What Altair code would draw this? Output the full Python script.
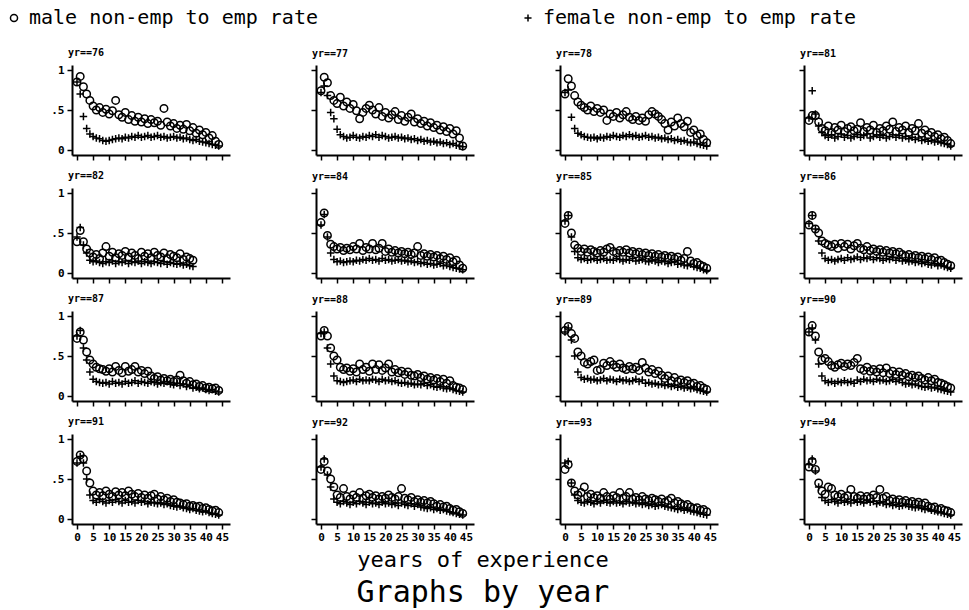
import altair as alt
import pandas as pd

# Survey years, one panel each (4 x 4 grid)
YEARS = [76, 77, 78, 81, 82, 84, 85, 86, 87, 88, 89, 90, 91, 92, 93, 94]
SERIES = ["male non-emp to emp rate", "female non-emp to emp rate"]
X_TICKS = [0, 5, 10, 15, 20, 25, 30, 35, 40, 45]
Y_TICKS = [0, 0.5, 1]

# Non-employment to employment transition rates by years of experience (0, 1, 2, ...)
male = {
    76: [0.85,0.92,0.79,0.70,0.62,0.55,0.50,0.53,0.47,0.51,0.45,0.49,0.62,0.44,0.41,
         0.47,0.38,0.43,0.36,0.41,0.35,0.39,0.33,0.38,0.34,0.36,0.31,0.52,0.35,0.30,
         0.33,0.27,0.31,0.26,0.32,0.24,0.28,0.21,0.25,0.19,0.22,0.15,0.18,0.11,0.07],
    77: [0.74,0.91,0.84,0.68,0.62,0.58,0.66,0.55,0.60,0.52,0.57,0.49,0.39,0.47,0.52,
         0.56,0.50,0.45,0.53,0.42,0.47,0.40,0.44,0.48,0.38,0.43,0.36,0.41,0.45,0.35,
         0.39,0.33,0.36,0.30,0.34,0.28,0.31,0.25,0.29,0.23,0.27,0.20,0.24,0.15,0.05],
    78: [0.70,0.89,0.80,0.68,0.60,0.56,0.53,0.50,0.55,0.48,0.52,0.47,0.50,0.37,0.45,
         0.42,0.47,0.40,0.44,0.48,0.41,0.38,0.42,0.37,0.40,0.36,0.44,0.48,0.45,0.42,
         0.38,0.33,0.25,0.35,0.30,0.40,0.33,0.29,0.36,0.22,0.25,0.18,0.20,0.13,0.09],
    81: [0.37,0.43,0.43,0.35,0.27,0.24,0.30,0.22,0.28,0.25,0.31,0.23,0.27,0.29,0.24,
         0.26,0.34,0.23,0.28,0.25,0.31,0.22,0.27,0.24,0.30,0.26,0.35,0.23,0.28,0.25,
         0.30,0.22,0.27,0.24,0.33,0.21,0.25,0.19,0.22,0.17,0.19,0.14,0.16,0.12,0.08],
    82: [0.39,0.53,0.39,0.30,0.25,0.20,0.23,0.18,0.25,0.33,0.21,0.26,0.19,0.24,0.22,
         0.27,0.20,0.25,0.22,0.18,0.26,0.21,0.24,0.19,0.26,0.22,0.20,0.25,0.18,0.23,
         0.21,0.19,0.24,0.17,0.20,0.18,0.16],
    84: [0.63,0.75,0.47,0.36,0.33,0.30,0.32,0.28,0.31,0.29,0.33,0.30,0.37,0.28,0.32,
         0.30,0.37,0.29,0.31,0.37,0.27,0.30,0.26,0.28,0.25,0.27,0.24,0.26,0.23,0.25,
         0.33,0.22,0.24,0.21,0.23,0.20,0.22,0.18,0.21,0.17,0.19,0.14,0.16,0.10,0.06],
    85: [0.62,0.72,0.50,0.35,0.31,0.27,0.30,0.26,0.29,0.27,0.25,0.28,0.26,0.30,0.32,
         0.27,0.25,0.28,0.26,0.29,0.25,0.27,0.24,0.26,0.23,0.25,0.22,0.24,0.21,0.23,
         0.20,0.22,0.19,0.21,0.18,0.20,0.16,0.18,0.27,0.15,0.12,0.13,0.10,0.08,0.06],
    86: [0.60,0.72,0.55,0.50,0.40,0.37,0.35,0.33,0.36,0.31,0.37,0.33,0.36,0.30,0.34,
         0.37,0.31,0.29,0.33,0.28,0.30,0.27,0.29,0.26,0.28,0.25,0.27,0.24,0.26,0.23,
         0.21,0.23,0.20,0.22,0.19,0.21,0.18,0.20,0.17,0.19,0.15,0.16,0.13,0.11,0.09],
    87: [0.72,0.80,0.70,0.55,0.45,0.40,0.36,0.34,0.33,0.31,0.34,0.30,0.37,0.32,0.29,
         0.37,0.31,0.33,0.37,0.30,0.32,0.28,0.31,0.25,0.22,0.24,0.20,0.22,0.19,0.21,
         0.18,0.20,0.26,0.19,0.16,0.18,0.14,0.15,0.12,0.13,0.10,0.11,0.09,0.10,0.07],
    88: [0.75,0.82,0.75,0.60,0.50,0.45,0.36,0.33,0.35,0.31,0.34,0.30,0.40,0.33,0.36,
         0.31,0.40,0.33,0.39,0.32,0.35,0.40,0.30,0.33,0.29,0.31,0.27,0.30,0.26,0.25,
         0.27,0.23,0.25,0.21,0.23,0.20,0.22,0.18,0.21,0.16,0.19,0.13,0.11,0.10,0.08],
    89: [0.82,0.87,0.78,0.72,0.55,0.50,0.42,0.40,0.43,0.45,0.32,0.33,0.41,0.38,0.43,
         0.39,0.36,0.40,0.35,0.33,0.37,0.34,0.36,0.32,0.42,0.35,0.30,0.33,0.28,0.31,
         0.26,0.22,0.25,0.19,0.23,0.18,0.20,0.17,0.19,0.15,0.16,0.12,0.13,0.10,0.08],
    90: [0.80,0.88,0.75,0.55,0.45,0.47,0.43,0.38,0.36,0.39,0.41,0.37,0.40,0.38,0.42,
         0.47,0.34,0.32,0.36,0.31,0.33,0.30,0.34,0.29,0.35,0.28,0.31,0.27,0.30,0.26,
         0.28,0.24,0.26,0.23,0.25,0.22,0.20,0.23,0.19,0.21,0.17,0.16,0.14,0.12,0.10],
    91: [0.72,0.80,0.75,0.60,0.45,0.35,0.30,0.33,0.29,0.35,0.31,0.28,0.34,0.30,0.33,
         0.29,0.35,0.31,0.28,0.32,0.27,0.30,0.26,0.29,0.31,0.25,0.28,0.24,0.26,0.22,
         0.24,0.21,0.20,0.18,0.19,0.16,0.17,0.15,0.16,0.13,0.14,0.12,0.10,0.11,0.08],
    92: [0.62,0.72,0.60,0.50,0.40,0.30,0.27,0.38,0.28,0.25,0.30,0.27,0.33,0.26,0.29,
         0.31,0.27,0.29,0.25,0.28,0.26,0.30,0.27,0.25,0.28,0.38,0.26,0.24,0.27,0.22,
         0.24,0.21,0.23,0.20,0.22,0.19,0.16,0.18,0.15,0.16,0.13,0.11,0.12,0.09,0.07],
    93: [0.62,0.68,0.45,0.35,0.30,0.33,0.40,0.28,0.31,0.27,0.29,0.26,0.33,0.28,0.25,
         0.29,0.27,0.33,0.26,0.28,0.33,0.25,0.27,0.24,0.28,0.25,0.23,0.26,0.24,0.22,
         0.25,0.21,0.23,0.26,0.20,0.22,0.19,0.17,0.18,0.15,0.13,0.14,0.11,0.12,0.09],
    94: [0.65,0.72,0.62,0.45,0.35,0.31,0.40,0.38,0.30,0.28,0.31,0.27,0.29,0.37,0.28,
         0.26,0.29,0.25,0.28,0.26,0.30,0.27,0.37,0.26,0.28,0.23,0.25,0.22,0.24,0.21,
         0.23,0.20,0.22,0.19,0.21,0.18,0.20,0.16,0.14,0.15,0.12,0.13,0.11,0.10,0.08],
}

female = {
    76: [0.85,0.70,0.42,0.27,0.20,0.17,0.15,0.14,0.12,0.11,0.12,0.13,0.14,0.15,0.14,
         0.16,0.15,0.17,0.16,0.18,0.16,0.17,0.18,0.16,0.17,0.18,0.16,0.17,0.15,0.16,
         0.17,0.15,0.16,0.14,0.15,0.13,0.12,0.13,0.11,0.10,0.09,0.08,0.07,0.06,0.05],
    77: [0.72,0.80,0.68,0.47,0.39,0.26,0.19,0.17,0.15,0.16,0.18,0.16,0.15,0.17,0.16,
         0.18,0.17,0.19,0.16,0.18,0.17,0.15,0.16,0.17,0.15,0.16,0.14,0.15,0.13,0.14,
         0.12,0.13,0.11,0.12,0.10,0.11,0.09,0.10,0.08,0.09,0.07,0.08,0.06,0.05,0.04],
    78: [0.72,0.75,0.41,0.27,0.21,0.19,0.17,0.16,0.15,0.16,0.14,0.16,0.15,0.17,0.16,
         0.18,0.17,0.16,0.18,0.17,0.19,0.17,0.18,0.16,0.17,0.18,0.16,0.17,0.15,0.16,
         0.14,0.15,0.13,0.14,0.12,0.13,0.11,0.12,0.10,0.09,0.10,0.08,0.07,0.06,0.05],
    81: [0.40,0.74,0.45,0.30,0.22,0.18,0.16,0.19,0.15,0.17,0.20,0.16,0.18,0.15,0.17,
         0.19,0.16,0.18,0.20,0.15,0.17,0.19,0.16,0.18,0.15,0.17,0.19,0.16,0.18,0.15,
         0.17,0.14,0.16,0.13,0.15,0.12,0.13,0.11,0.12,0.10,0.11,0.09,0.08,0.07,0.05],
    82: [0.45,0.57,0.35,0.25,0.16,0.14,0.15,0.13,0.12,0.14,0.13,0.15,0.12,0.14,0.13,
         0.15,0.12,0.14,0.13,0.15,0.12,0.14,0.13,0.12,0.14,0.13,0.12,0.14,0.11,0.13,
         0.12,0.11,0.12,0.10,0.11,0.09,0.08],
    84: [0.60,0.73,0.45,0.25,0.17,0.14,0.15,0.13,0.14,0.15,0.14,0.16,0.15,0.17,0.16,
         0.18,0.16,0.17,0.15,0.18,0.16,0.17,0.15,0.16,0.17,0.15,0.16,0.14,0.15,0.13,
         0.14,0.12,0.13,0.11,0.12,0.10,0.11,0.12,0.09,0.10,0.08,0.07,0.06,0.05,0.04],
    85: [0.65,0.72,0.45,0.27,0.19,0.17,0.18,0.16,0.17,0.18,0.16,0.17,0.18,0.16,0.17,
         0.16,0.18,0.17,0.15,0.17,0.16,0.18,0.15,0.16,0.17,0.15,0.14,0.16,0.15,0.13,
         0.15,0.14,0.12,0.13,0.14,0.11,0.12,0.10,0.09,0.11,0.08,0.07,0.06,0.04,0.03],
    86: [0.62,0.72,0.55,0.40,0.25,0.18,0.16,0.17,0.15,0.17,0.18,0.16,0.19,0.17,0.18,
         0.20,0.17,0.19,0.18,0.20,0.17,0.19,0.18,0.16,0.18,0.17,0.19,0.16,0.18,0.15,
         0.16,0.14,0.15,0.13,0.14,0.12,0.13,0.11,0.10,0.12,0.09,0.10,0.08,0.07,0.06],
    87: [0.75,0.82,0.60,0.45,0.30,0.21,0.18,0.17,0.16,0.17,0.15,0.18,0.16,0.17,0.15,
         0.18,0.16,0.17,0.19,0.16,0.18,0.17,0.16,0.18,0.17,0.15,0.17,0.16,0.18,0.15,
         0.14,0.16,0.13,0.15,0.12,0.13,0.10,0.11,0.09,0.10,0.08,0.07,0.08,0.06,0.05],
    88: [0.78,0.80,0.60,0.40,0.25,0.19,0.18,0.17,0.18,0.19,0.20,0.18,0.21,0.19,0.20,
         0.19,0.21,0.20,0.18,0.21,0.19,0.20,0.18,0.19,0.17,0.16,0.17,0.15,0.16,0.14,
         0.15,0.14,0.16,0.13,0.14,0.12,0.11,0.12,0.10,0.09,0.10,0.08,0.07,0.06,0.05],
    89: [0.80,0.85,0.70,0.50,0.30,0.23,0.21,0.22,0.20,0.21,0.19,0.20,0.22,0.19,0.21,
         0.20,0.18,0.21,0.19,0.20,0.18,0.19,0.21,0.18,0.20,0.16,0.17,0.15,0.16,0.14,
         0.15,0.13,0.14,0.12,0.13,0.11,0.12,0.10,0.11,0.09,0.10,0.08,0.07,0.06,0.05],
    90: [0.80,0.85,0.70,0.40,0.25,0.19,0.17,0.18,0.16,0.18,0.17,0.19,0.17,0.18,0.16,
         0.20,0.18,0.21,0.19,0.20,0.18,0.21,0.19,0.20,0.18,0.19,0.21,0.18,0.20,0.17,
         0.15,0.16,0.14,0.15,0.13,0.12,0.11,0.12,0.10,0.11,0.09,0.08,0.07,0.06,0.05],
    91: [0.70,0.78,0.70,0.50,0.30,0.23,0.21,0.24,0.22,0.20,0.23,0.21,0.24,0.22,0.20,
         0.23,0.21,0.22,0.20,0.23,0.21,0.22,0.19,0.21,0.20,0.19,0.20,0.18,0.19,0.17,
         0.16,0.15,0.16,0.14,0.13,0.12,0.13,0.11,0.10,0.09,0.10,0.08,0.07,0.06,0.05],
    92: [0.65,0.75,0.55,0.40,0.25,0.21,0.19,0.22,0.20,0.18,0.21,0.19,0.22,0.20,0.18,
         0.21,0.19,0.20,0.18,0.21,0.19,0.20,0.18,0.19,0.17,0.20,0.18,0.17,0.19,0.16,
         0.18,0.15,0.14,0.13,0.14,0.12,0.13,0.11,0.12,0.10,0.09,0.08,0.07,0.06,0.05],
    93: [0.70,0.72,0.45,0.30,0.23,0.21,0.20,0.22,0.21,0.19,0.22,0.20,0.23,0.21,0.20,
         0.22,0.20,0.21,0.19,0.22,0.20,0.21,0.19,0.20,0.18,0.19,0.17,0.18,0.16,0.17,
         0.18,0.16,0.15,0.14,0.13,0.12,0.13,0.11,0.12,0.10,0.09,0.08,0.07,0.06,0.05],
    94: [0.68,0.75,0.60,0.40,0.27,0.23,0.21,0.24,0.22,0.20,0.23,0.21,0.22,0.20,0.23,
         0.21,0.22,0.20,0.23,0.21,0.22,0.19,0.21,0.20,0.18,0.19,0.17,0.18,0.16,0.17,
         0.18,0.16,0.15,0.14,0.15,0.13,0.12,0.13,0.11,0.10,0.09,0.08,0.07,0.06,0.05],
}

rows = []
for yr in YEARS:
    for name, table in zip(SERIES, (male, female)):
        for exp, rate in enumerate(table[yr]):
            rows.append({"yr": yr, "exp": exp, "series": name, "rate": rate})
df = pd.DataFrame(rows)

MONO = "DejaVu Sans Mono"
PLUS = "M-1,0H1M0,-1V1"

shape_scale = alt.Scale(domain=SERIES, range=["circle", PLUS])


def panel(i, yr):
    r, c = divmod(i, 4)
    x_axis = alt.Axis(
        values=X_TICKS, labels=(r == 3), labelOverlap=False, title=None,
        grid=False, tickSize=5, tickWidth=1.5, domainWidth=2, domainColor="black",
        tickColor="black", labelFont=MONO, labelFontSize=11, labelFontWeight="bold",
        labelColor="black", labelPadding=2,
    )
    y_axis = alt.Axis(
        values=Y_TICKS, labels=(c == 0), title=None, grid=False, tickSize=5,
        tickWidth=1.5, domainWidth=2, domainColor="black", tickColor="black",
        labelFont=MONO, labelFontSize=11, labelFontWeight="bold", labelColor="black",
        labelPadding=3,
        labelExpr="datum.value == 0.5 ? '.5' : format(datum.value, 'd')",
    )
    return (
        alt.Chart(df[df.yr == yr])
        .mark_point(filled=False, strokeWidth=1.5, color="black", opacity=1, size=56)
        .encode(
            x=alt.X("exp:Q", scale=alt.Scale(domain=[-1.55, 47.5], nice=False, zero=False), axis=x_axis),
            y=alt.Y("rate:Q", scale=alt.Scale(domain=[-0.0625, 1.0625], nice=False), axis=y_axis),
            shape=alt.Shape(
                "series:N", scale=shape_scale, sort=SERIES,
                legend=alt.Legend(
                    title=None, orient="none", direction="horizontal",
                    legendX=-68, legendY=-57, columnPadding=200, labelLimit=0,
                    labelFont=MONO, labelFontSize=20, labelColor="black",
                    symbolSize=50, symbolStrokeWidth=1.5, symbolStrokeColor="black",
                    labelOffset=5,
                ),
            ),
        )
        .properties(
            width=158, height=90,
            title=alt.TitleParams(
                f"yr=={yr}", anchor="start", frame="group", font=MONO, fontSize=10,
                fontWeight="bold", color="black", offset=6, dx=-4,
            ),
        )
    )


charts = [panel(i, yr) for i, yr in enumerate(YEARS)]

chart = (
    alt.concat(*charts, columns=4, spacing=alt.RowColnumber(row=10, column=80))
    .properties(
        background="white",
        padding={"left": 4, "top": 8, "right": 1, "bottom": 1},
        title=alt.TitleParams(
            "years of experience", subtitle="Graphs by year", orient="bottom",
            anchor="middle", font=MONO, fontSize=22, fontWeight="normal", color="black",
            subtitleFont=MONO, subtitleFontSize=30, subtitleColor="black",
            subtitlePadding=6, offset=8,
        ),
    )
    .configure_view(strokeWidth=0)
)

chart.save("out.html", embed_options={"renderer": "svg", "actions": False})
